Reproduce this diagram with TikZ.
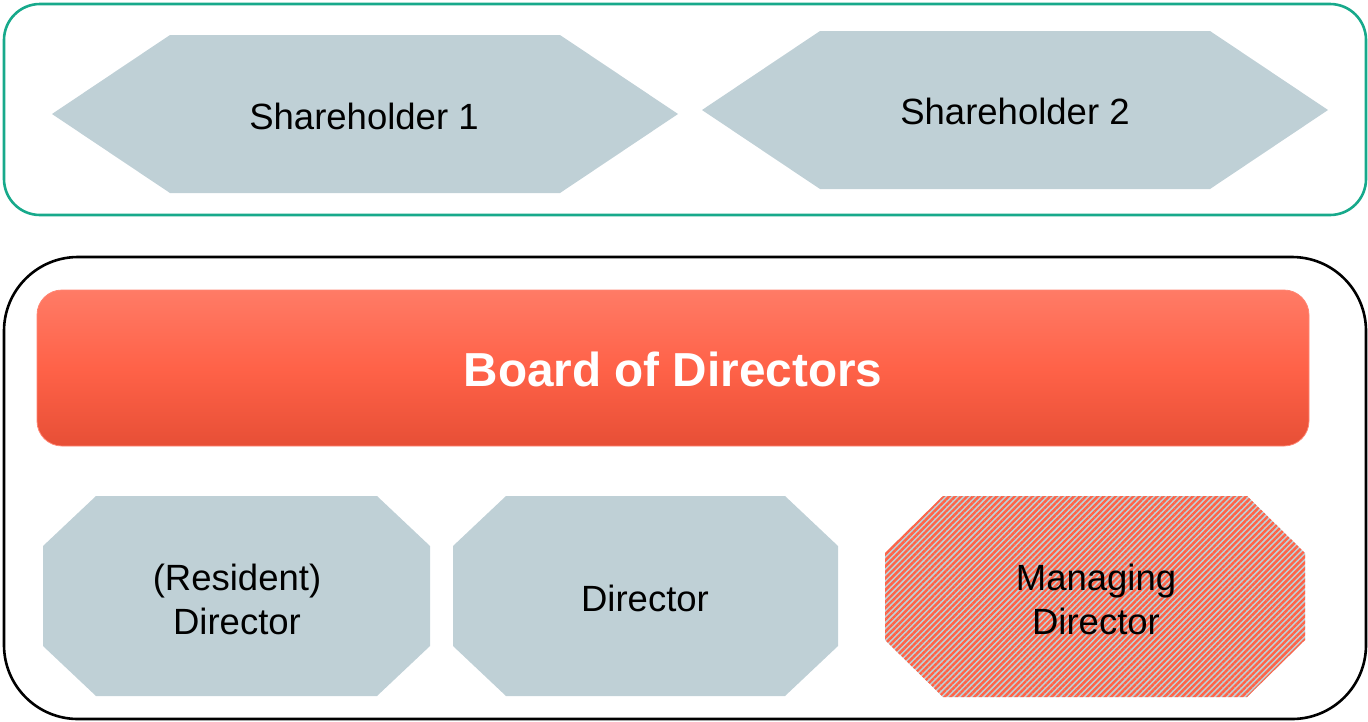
\documentclass[tikz,border=0pt]{standalone}
\usepackage{fontspec}
\setmainfont{Liberation Sans}
\usetikzlibrary{patterns.meta}
\definecolor{shgrey}{HTML}{BFD0D6}
\definecolor{frgreen}{HTML}{17A98B}
\definecolor{hatchred}{HTML}{FF6347}
\definecolor{boardtop}{HTML}{FF7B66}
\definecolor{boardmid}{HTML}{FF6248}
\definecolor{boardbot}{HTML}{E74F36}
\definecolor{boardedge}{HTML}{FF8573}
\tikzset{
  txt/.style={font=\fontsize{36.5}{44}\selectfont, align=center, text=black},
  shape fill/.style={fill=shgrey, draw=none},
  hatched/.style={fill=shgrey, draw=none, postaction={pattern={Lines[angle=45,distance=4.2pt,line width=2.4pt]}, pattern color=hatchred}},
  frame/.style={line width=2.6pt}
}
\begin{document}
\begin{tikzpicture}[x=1pt,y=-1pt]
\useasboundingbox (0,0) rectangle (1368,721);
% top frame
\draw[frame, draw=frgreen, rounded corners=36pt] (4,4) rectangle (1366,215);
% shareholders
\path[shape fill] (52,114) -- (170,35) -- (560,35) -- (678,114) -- (560,193) -- (170,193) -- cycle;
\path[shape fill] (702,110) -- (820,31) -- (1210,31) -- (1328,110) -- (1210,189) -- (820,189) -- cycle;
\node[txt] (sh1) at (364,116) {Shareholder 1};
\node[txt] (sh2) at (1015,111) {Shareholder 2};
% bottom frame
\draw[frame, draw=black, rounded corners=74pt] (4,257) rectangle (1366,719);
% board
\shade[top color=boardtop, bottom color=boardbot, middle color=boardmid, rounded corners=25pt, draw=boardedge, line width=0.8pt] (37,290) rectangle (1309,446);
\node[font=\fontsize{47.7}{56}\selectfont\bfseries, text=white] (board) at (673,369) {Board of Directors};
% directors
\path[shape fill] (96,496) -- (377,496) -- (430,546) -- (430,646) -- (377,696) -- (96,696) -- (43,646) -- (43,546) -- cycle;
\path[shape fill] (506,496) -- (785,496) -- (838,546) -- (838,646) -- (785,696) -- (506,696) -- (453,646) -- (453,546) -- cycle;
\path[hatched] (943,496) -- (1247,496) -- (1305,553) -- (1305,640) -- (1247,697) -- (943,697) -- (885,640) -- (885,553) -- cycle;
\node[txt] (rd) at (237,599) {(Resident)\\Director};
\node[txt] (d) at (645,598) {Director};
\node[txt] (md) at (1096,599) {Managing\\Director};
\end{tikzpicture}
\end{document}
